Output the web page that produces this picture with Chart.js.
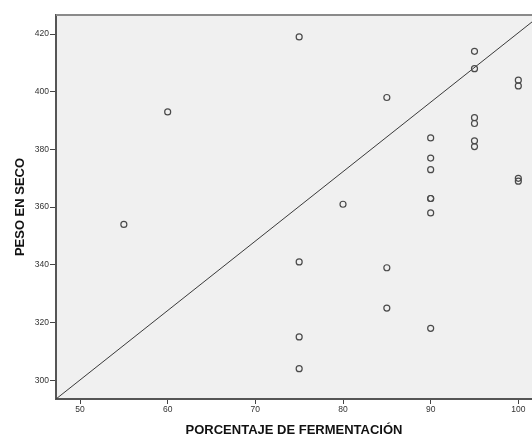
<!DOCTYPE html>
<html lang="es">
<head>
    <meta charset="UTF-8">
    <title>Peso en seco vs fermentación</title>
    <script src="https://cdn.jsdelivr.net/npm/chart.js"></script>
    <style>
        body {
            margin: 0;
            padding: 0;
            background: #fff;
            overflow: hidden;
        }
        #chart {
            display: block;
        }
    </style>
</head>
<body>
    <canvas id="chart" width="532" height="436"></canvas>

    <script>
        // porcentaje de fermentación / peso en seco
        const fermentacion = [55, 60, 75, 75, 75, 75, 80, 85, 85, 85,
                              90, 90, 90, 90, 90, 90, 90,
                              95, 95, 95, 95, 95, 95,
                              100, 100, 100, 100];
        const pesoSeco = [354, 393, 419, 341, 315, 304, 361, 398, 339, 325,
                          384, 377, 373, 363, 363, 358, 318,
                          414, 408, 391, 389, 383, 381,
                          404, 402, 370, 369];

        // reference line (corner to corner)
        const lineX = [47.26, 101.56];
        const lineY = [293.5, 424.2];

        const xTicks = [50, 60, 70, 80, 90, 100];
        const yTicks = [300, 320, 340, 360, 380, 400, 420];

        const xRange = [47.26, 101.56];
        const yRange = [293.5, 426.6];

        const plotBg = {
            id: 'plotBg',
            beforeDraw(chart) {
                const { ctx, chartArea: a } = chart;
                ctx.save();
                ctx.fillStyle = '#f0f0f0';
                ctx.fillRect(a.left, a.top, a.right - a.left, a.bottom - a.top);
                ctx.restore();
            },
            afterDraw(chart) {
                const { ctx, chartArea: a } = chart;
                ctx.save();
                ctx.strokeStyle = '#8a8a8a';
                ctx.lineWidth = 2;
                ctx.beginPath();
                ctx.moveTo(a.left, a.top);
                ctx.lineTo(a.right, a.top);
                ctx.stroke();
                ctx.restore();
            }
        };

        const points = fermentacion.map((x, i) => ({ x: x, y: pesoSeco[i] }));
        const refLine = lineX.map((x, i) => ({ x: x, y: lineY[i] }));

        new Chart(document.getElementById('chart'), {
            type: 'scatter',
            data: {
                datasets: [{
                    data: points,
                    pointStyle: 'circle',
                    pointRadius: 3,
                    pointBorderWidth: 1.2,
                    pointBorderColor: '#4a4a4a',
                    pointBackgroundColor: 'rgba(0,0,0,0)'
                }, {
                    type: 'line',
                    data: refLine,
                    borderColor: '#3a3a3a',
                    borderWidth: 1,
                    pointRadius: 0,
                    fill: false
                }]
            },
            options: {
                responsive: false,
                animation: false,
                devicePixelRatio: 1,
                layout: {
                    autoPadding: false,
                    padding: { top: 15, right: 0, bottom: 0, left: 0 }
                },
                plugins: {
                    legend: { display: false },
                    tooltip: { enabled: false }
                },
                scales: {
                    x: {
                        type: 'linear',
                        min: xRange[0],
                        max: xRange[1],
                        afterBuildTicks: s => { s.ticks = xTicks.map(v => ({ value: v })); },
                        afterFit: s => {
                            s.height = 37;
                            s.paddingLeft = 0;
                            s.paddingRight = 0;
                        },
                        grid: {
                            drawOnChartArea: false,
                            drawTicks: true,
                            tickLength: 5,
                            color: '#444'
                        },
                        border: { color: '#555', width: 2 },
                        ticks: {
                            padding: 1,
                            color: '#333',
                            font: { family: 'Liberation Sans, Arial', size: 8.5 },
                            maxRotation: 0
                        },
                        title: {
                            display: true,
                            text: 'PORCENTAJE DE FERMENTACIÓN',
                            color: '#111',
                            font: { family: 'Liberation Sans, Arial', size: 13, weight: 'bold', lineHeight: 1 },
                            padding: { top: 0, bottom: -1 }
                        }
                    },
                    y: {
                        type: 'linear',
                        min: yRange[0],
                        max: yRange[1],
                        afterBuildTicks: s => { s.ticks = yTicks.map(v => ({ value: v })); },
                        afterFit: s => {
                            s.width = 56;
                            s.paddingTop = 0;
                            s.paddingBottom = 0;
                        },
                        grid: {
                            drawOnChartArea: false,
                            drawTicks: true,
                            tickLength: 6,
                            color: '#444'
                        },
                        border: { color: '#555', width: 2 },
                        ticks: {
                            padding: 1,
                            color: '#333',
                            font: { family: 'Liberation Sans, Arial', size: 8.5 }
                        },
                        title: {
                            display: true,
                            text: 'PESO EN SECO',
                            color: '#111',
                            font: { family: 'Liberation Sans, Arial', size: 13, weight: 'bold', lineHeight: 1 },
                            padding: { top: 13.5, bottom: 0 }
                        }
                    }
                }
            },
            plugins: [plotBg]
        });
    </script>
</body>
</html>
